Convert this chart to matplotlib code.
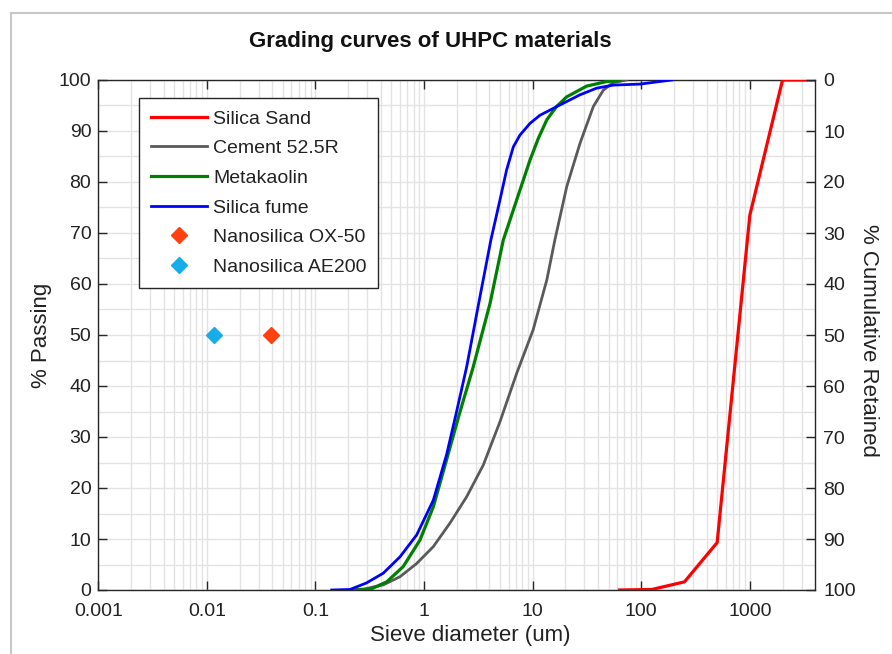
import matplotlib
matplotlib.use("Agg")
import matplotlib.pyplot as plt
from matplotlib.lines import Line2D
from matplotlib.ticker import LogLocator, MultipleLocator, FixedLocator, FixedFormatter

plt.rcParams['font.family'] = ['Liberation Sans', 'DejaVu Sans']

# ---------------- data ----------------
sand_d = [63, 125, 250, 500, 1000, 2000, 4000]
sand_p = [0, 0.1, 1.6, 9.3, 73.5, 100, 100]

cement_d = [0.22, 0.28, 0.42, 0.60, 0.855, 1.216, 1.73, 2.47, 3.51, 5.0, 7.13, 10.1, 13.5, 16.0,
            20.6, 27.3, 36.2, 44.7, 55.2, 73.4]
cement_p = [0, 0.2, 1.0, 2.6, 5.2, 8.5, 13.1, 18.3, 24.5, 33.0, 42.5, 51.0, 60.8, 68.6,
            79.1, 87.6, 94.8, 98.0, 99.5, 100]

meta_d = [0.22, 0.318, 0.453, 0.643, 0.917, 1.216, 1.61, 2.10, 2.84, 4.05, 5.36, 7.13, 9.45,
          11.3, 13.5, 16.6, 20.6, 31.4, 48.0, 63.7]
meta_p = [0, 0.1, 1.6, 4.6, 9.8, 16.3, 25.5, 34.3, 43.8, 56.2, 68.6, 76.5, 84.3,
          88.6, 92.2, 94.8, 96.7, 98.8, 99.7, 99.9]

fume_d = [0.141, 0.208, 0.296, 0.421, 0.600, 0.855, 1.216, 1.61, 1.96, 2.47, 3.27, 4.12, 5.0,
          5.76, 6.64, 7.64, 9.45, 11.7, 17.8, 27.3, 38.8, 55.2, 98, 148, 191]
fume_p = [0, 0.1, 1.4, 3.3, 6.5, 10.8, 17.6, 26.5, 34.3, 43.8, 57.5, 68.6, 76.5,
          82.4, 86.9, 89.2, 91.5, 93.1, 95.1, 97.1, 98.4, 99.0, 99.2, 99.7, 100]

ox50_d = [0.039]
ox50_p = [50]
ae200_d = [0.0116]
ae200_p = [50]

x_ticks = [0.001, 0.01, 0.1, 1, 10, 100, 1000]
x_ticklabels = ['0.001', '0.01', '0.1', '1', '10', '100', '1000']

# ---------------- figure ----------------
W, H = 892, 654
fig = plt.figure(figsize=(W / 100, H / 100), dpi=100)
fig.patch.set_facecolor('white')

# light grey window frame (left and top)
fig.add_artist(Line2D([11 / W, 11 / W], [0, 1 - 13 / H], color='#c8c8c8', lw=1.5, transform=fig.transFigure))
fig.add_artist(Line2D([11 / W, 1], [1 - 13 / H, 1 - 13 / H], color='#c8c8c8', lw=1.5, transform=fig.transFigure))

left, right, bottom, top = 98.3 / W, 815 / W, 1 - 590 / H, 1 - 80 / H
ax = fig.add_axes([left, bottom, right - left, top - bottom])

spine_c = '#262626'
grid_c = '#e3e3e3'

ax.plot(sand_d, sand_p, color='#ff0000', lw=2.3, label='Silica Sand', zorder=5)
ax.plot(cement_d, cement_p, color='#5a5a5a', lw=2.0, label='Cement 52.5R', zorder=5)
ax.plot(meta_d, meta_p, color='#008000', lw=2.3, label='Metakaolin', zorder=5)
ax.plot(fume_d, fume_p, color='#0000ff', lw=2.0, label='Silica fume', zorder=6)
ax.plot(ox50_d, ox50_p, linestyle='none', marker='D', ms=8.5, color='#ff4010', label='Nanosilica OX-50', zorder=7)
ax.plot(ae200_d, ae200_p, linestyle='none', marker='D', ms=8.5, color='#15aee8', label='Nanosilica AE200', zorder=7)

ax.set_xscale('log')
ax.set_xlim(0.001, 3981)
ax.set_ylim(0, 100)

ax.xaxis.set_major_locator(FixedLocator(x_ticks))
ax.xaxis.set_major_formatter(FixedFormatter(x_ticklabels))
ax.xaxis.set_minor_locator(LogLocator(base=10, subs=range(2, 10), numticks=20))
ax.yaxis.set_major_locator(MultipleLocator(10))
ax.yaxis.set_minor_locator(MultipleLocator(5))

ax.grid(True, which='both', color=grid_c, lw=1.0, zorder=0)
ax.set_axisbelow(True)

ax.tick_params(which='major', direction='in', length=6.5, width=1.0, color=spine_c,
               top=True, bottom=True, left=True, right=False, labelsize=14, pad=5,
               labelcolor='#222222')
ax.tick_params(axis='x', which='major', pad=9)
ax.tick_params(which='minor', length=0, top=False, bottom=False, left=False, right=False)
for s in ax.spines.values():
    s.set_color(spine_c)
    s.set_linewidth(1.0)

ax.set_xlabel('Sieve diameter (um)', fontsize=16, color='#222222', va='center')
ax.xaxis.set_label_coords(0.519, -0.09)
ax.set_ylabel('% Passing', fontsize=16, color='#222222', va='center')
ax.yaxis.set_label_coords(-0.079, 0.5)

ax2 = ax.twinx()
ax2.set_ylim(100, 0)
ax2.yaxis.set_major_locator(MultipleLocator(10))
ax2.tick_params(which='major', direction='in', length=6.5, width=1.0, color=spine_c,
                labelsize=14, pad=6, labelcolor='#222222')
ax2.tick_params(which='minor', length=0)
for s in ax2.spines.values():
    s.set_visible(False)
ax2.set_ylabel('% Cumulative Retained', fontsize=16, rotation=-90, color='#222222')
ax2.yaxis.set_label_coords(1.075, 0.49)
ax2.yaxis.label.set_va('center')

leg = ax.legend(loc='upper left', bbox_to_anchor=((139.3 - 98.3) / 716.7, (590 - 98.3) / 510),
                borderaxespad=0, fontsize=14, handlelength=2.9, handletextpad=0.3,
                borderpad=0.6, labelspacing=0.62, numpoints=1, fancybox=False,
                framealpha=1, edgecolor='#262626')
leg.get_frame().set_linewidth(1.0)
leg.set_zorder(10)
for t in leg.get_texts():
    t.set_color('#222222')

fig.text(430.5 / W, 1 - 42 / H, 'Grading curves of UHPC materials', fontsize=16,
         fontweight='bold', ha='center', va='center', color='#111111')

fig.savefig('out.png', dpi=100)
